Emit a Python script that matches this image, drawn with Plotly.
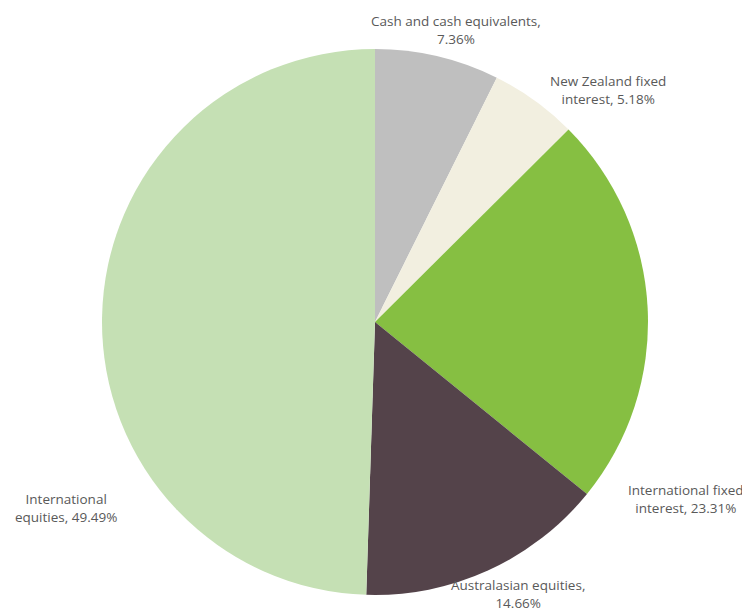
import plotly.graph_objects as go

categories = ["Cash and cash equivalents", "New Zealand fixed interest",
              "International fixed interest", "Australasian equities",
              "International equities"]
values = [7.36, 5.18, 23.31, 14.66, 49.49]
label_line1 = ["Cash and cash equivalents,", "New Zealand fixed",
               "International fixed", "Australasian equities,",
               "International"]
label_line2 = ["", "interest, ", "interest, ", "", "equities, "]
colors = ["#BFBFBF", "#F2EFE0", "#86BF42", "#54434A", "#C5E0B4"]

# page has an 8px body margin; work in figure pixels = page pixels - 8
OFF = 8
W, H = 742, 605
# label anchor positions (page pixels of the reference)
label_px = [(456, 30), (608, 90), (686, 499), (518, 594), (66, 508)]
cx, cy, r = 375 - OFF, 322 - OFF, 273

fig = go.Figure(go.Pie(
    labels=categories,
    values=values,
    textinfo="none",
    sort=False,
    direction="clockwise",
    rotation=0,
    marker=dict(colors=colors, line=dict(width=0)),
    domain=dict(x=[(cx - r) / W, (cx + r) / W],
                y=[(H - cy - r) / H, (H - cy + r) / H]),
    showlegend=False,
    hoverinfo="label+percent",
))

for l1, l2, v, (px, py) in zip(label_line1, label_line2, values, label_px):
    txt = f"{l1}<br>{l2}{v:.2f}%"
    fig.add_annotation(
        x=(px - OFF) / W, y=1 - (py - OFF) / H, xref="paper", yref="paper",
        text=txt, showarrow=False, xanchor="center", yanchor="middle",
        align="center",
        font=dict(family="Open Sans", size=13.5, color="#595959"),
    )

fig.update_layout(
    width=W, height=H,
    margin=dict(l=0, r=0, t=0, b=0),
    paper_bgcolor="white",
    plot_bgcolor="white",
    showlegend=False,
)

fig.write_html("out.html")
